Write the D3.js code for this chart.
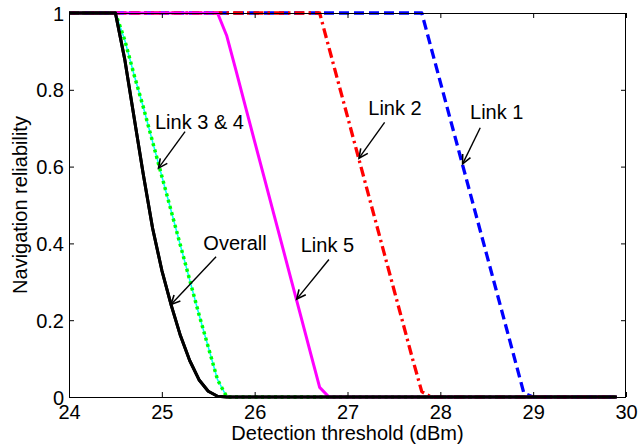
<!DOCTYPE html>
<html>
<head>
<meta charset="utf-8">
<script src="https://cdn.jsdelivr.net/npm/d3@7"></script>
<style>
  html, body { margin: 0; padding: 0; background: #fff; }
  svg { display: block; }
  text { font-family: Arial, "Liberation Sans", Helvetica, sans-serif; fill: #000; }
</style>
</head>
<body>
<svg id="chart" width="638" height="447"></svg>
<script>
// ---- data ----
const thresholds = d3.range(0, 60).map(i => +(24 + i * 0.1).toFixed(1)); // 24.0 .. 29.9 dBm
const overall = [1,1,1,1,1,1,0.88,0.73,0.58,0.44,0.33,0.24,0.16,0.095,0.045,0.015,0.002,
  0,0,0,0,0,0,0,0,0,0,0,0,0,0,0,0,0,0,0,0,0,0,0,0,0,0,0,0,0,0,0,0,0,0,0,0,0,0,0,0,0,0,0];
const link34 = [1,1,1,1,1,1,0.93,0.84,0.755,0.665,0.575,0.485,0.395,0.305,0.215,0.13,0.045,
  0,0,0,0,0,0,0,0,0,0,0,0,0,0,0,0,0,0,0,0,0,0,0,0,0,0,0,0,0,0,0,0,0,0,0,0,0,0,0,0,0,0,0];
const link5 = [1,1,1,1,1,1,1,1,1,1,1,1,1,1,1,1,1,
  0.94,0.849,0.757,0.665,0.574,0.482,0.391,0.299,0.208,0.116,0.025,
  0,0,0,0,0,0,0,0,0,0,0,0,0,0,0,0,0,0,0,0,0,0,0,0,0,0,0,0,0,0,0,0];
const link2 = [1,1,1,1,1,1,1,1,1,1,1,1,1,1,1,1,1,1,1,1,1,1,1,1,1,1,1,1,
  0.91,0.82,0.73,0.64,0.55,0.46,0.37,0.28,0.19,0.10,0.014,
  0,0,0,0,0,0,0,0,0,0,0,0,0,0,0,0,0,0,0,0,0];
const link1 = [1,1,1,1,1,1,1,1,1,1,1,1,1,1,1,1,1,1,1,1,1,1,1,1,1,1,1,1,1,1,1,1,1,1,1,1,1,1,1,
  0.91,0.82,0.73,0.64,0.55,0.46,0.37,0.28,0.19,0.10,0.01,
  0,0,0,0,0,0,0,0,0,0];
const xTicks = [24, 25, 26, 27, 28, 29, 30];
const yTicks = [0, 0.2, 0.4, 0.6, 0.8, 1];
const yTickLabels = ["0", "0.2", "0.4", "0.6", "0.8", "1"];

// annotations (data units)
const annLabels = ["Link 3 & 4", "Overall", "Link 2", "Link 1", "Link 5"];
const annTextX = [24.926, 25.447, 27.224, 28.32, 26.496];
const annTextY = [0.697, 0.383, 0.734, 0.724, 0.378];
const annFromX = [25.25, 25.584, 27.40, 28.43, 26.80];
const annFromY = [0.691, 0.365, 0.715, 0.701, 0.358];
const annTipX = [24.964, 25.099, 27.124, 28.24, 26.453];
const annTipY = [0.596, 0.241, 0.622, 0.607, 0.255];

// ---- layout ----
const L = 69, R = 626, T = 13, B = 397;
const svg = d3.select("#chart");
const x = d3.scaleLinear().domain([24, 30]).range([L, R]);
const y = d3.scaleLinear().domain([0, 1]).range([B, T]);
const FS = 20;

// series
const series = [
  { v: link1, color: "#0000ff", w: 3.3, dash: "10,5" },
  { v: link2, color: "#ff0000", w: 3.3, dash: "10,4,2.5,4" },
  { v: link34, color: "#00ffff", w: 1.5, dash: null },
  { v: link34, color: "#00ff00", w: 3.5, dash: "3,3.5" },
  { v: link5, color: "#ff00ff", w: 3, dash: null },
  { v: overall, color: "#000000", w: 3, dash: null }
];
const line = d3.line().x(d => x(d[0])).y(d => y(d[1]));
series.forEach(s => {
  svg.append("path")
    .datum(thresholds.map((t, i) => [t, s.v[i]]))
    .attr("d", line)
    .attr("fill", "none")
    .attr("stroke", s.color)
    .attr("stroke-width", s.w)
    .attr("stroke-linejoin", "round")
    .attr("stroke-dasharray", s.dash);
});

// axes (box with inward ticks on all sides)
const tickLen = 5;
const bottomAxis = d3.axisBottom(x).tickValues(xTicks).tickSize(-tickLen).tickFormat(d3.format("d"));
const topAxis = d3.axisTop(x).tickValues(xTicks).tickSize(-tickLen).tickFormat("");
const leftAxis = d3.axisLeft(y).tickValues(yTicks).tickSize(-tickLen).tickFormat((d, i) => yTickLabels[i]);
const rightAxis = d3.axisRight(y).tickValues(yTicks).tickSize(-tickLen).tickFormat("");

function styleAxis(g) {
  g.select(".domain").remove();
  g.selectAll(".tick line").attr("stroke", "#000").attr("stroke-width", 1);
  g.selectAll("text").attr("font-size", FS).attr("fill", "#000")
    .style("font-family", 'Arial, "Liberation Sans", sans-serif');
}
svg.append("g").attr("transform", `translate(0,${B})`).call(bottomAxis).call(styleAxis)
  .selectAll("text").attr("dy", null).attr("y", 22);
svg.append("g").attr("transform", `translate(0,${T})`).call(topAxis).call(styleAxis);
svg.append("g").attr("transform", `translate(${L},0)`).call(leftAxis).call(styleAxis)
  .selectAll("text").attr("dy", null).attr("y", 7).attr("x", -5);
svg.append("g").attr("transform", `translate(${R},0)`).call(rightAxis).call(styleAxis);

svg.append("rect").attr("x", L + 0.5).attr("y", T + 0.5)
  .attr("width", R - L - 1).attr("height", B - T)
  .attr("fill", "none").attr("stroke", "#000").attr("stroke-width", 1);

// redraw black curve on top of the frame at the bottom
svg.append("path")
  .datum(thresholds.map((t, i) => [t, overall[i]]))
  .attr("d", line).attr("fill", "none").attr("stroke", "#000").attr("stroke-width", 3)
  .attr("stroke-linejoin", "round");

// axis titles
svg.append("text").attr("x", (L + R) / 2).attr("y", 440)
  .attr("text-anchor", "middle").attr("font-size", FS)
  .text("Detection threshold (dBm)");
svg.append("text")
  .attr("transform", `translate(27,${(T + B) / 2}) rotate(-90)`)
  .attr("text-anchor", "middle").attr("font-size", FS)
  .text("Navigation reliability");

// annotations
annLabels.forEach((lab, i) => {
  svg.append("text").attr("x", x(annTextX[i])).attr("y", y(annTextY[i]))
    .attr("font-size", FS).text(lab);
  const x1 = x(annFromX[i]), y1 = y(annFromY[i]);
  const x2 = x(annTipX[i]), y2 = y(annTipY[i]);
  svg.append("line").attr("x1", x1).attr("y1", y1).attr("x2", x2).attr("y2", y2)
    .attr("stroke", "#000").attr("stroke-width", 1.4);
  const ang = Math.atan2(y1 - y2, x1 - x2);
  const hl = 10, ha = 0.45;
  const p = [
    [x2 + hl * Math.cos(ang + ha), y2 + hl * Math.sin(ang + ha)],
    [x2, y2],
    [x2 + hl * Math.cos(ang - ha), y2 + hl * Math.sin(ang - ha)]
  ];
  svg.append("path").attr("d", d3.line()(p))
    .attr("fill", "none").attr("stroke", "#000").attr("stroke-width", 1.6);
});
</script>
</body>
</html>
